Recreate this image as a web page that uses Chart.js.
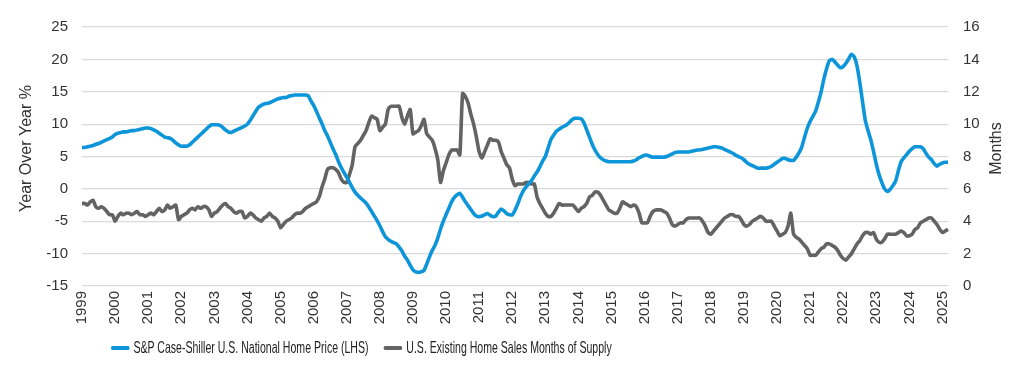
<!DOCTYPE html>
<html>
<head>
<meta charset="utf-8">
<script src="https://cdn.jsdelivr.net/npm/chart.js@4.4.1/dist/chart.umd.min.js"></script>
<style>
  html, body { margin: 0; padding: 0; background: #fff; }
  #wrap { position: relative; width: 1018px; height: 377px; }
  /* the source uses a condensed face; none is installed, so squeeze horizontally */
  #legend {
    position: absolute; left: 111px; top: 338px;
    display: flex; align-items: center; white-space: nowrap;
    font: 16.5px 'Liberation Sans', Arial, sans-serif;
    color: #222;
    transform: scaleX(0.64); transform-origin: 0 50%;
  }
  .item { display: flex; align-items: center; margin-right: 24px; }
  .swatch { width: 29px; height: 4px; margin-right: 6px; border-radius: 2px; }
</style>
</head>
<body>
<div id="wrap">
  <canvas id="c" width="1018" height="377"></canvas>
  <div id="legend"></div>
</div>
<script>
const FIRST_YEAR = 1999;
const MONTH_COUNT = 315; // Jan 1999 .. Mar 2025

// S&P Case-Shiller U.S. National Home Price, YoY % (left axis), monthly
const homePriceYoY = [
  6.4, 6.4, 6.5, 6.6, 6.7, 6.9, 7.0, 7.2, 7.4, 7.6, 7.8, 8.0,          // 1999
  8.4, 8.6, 8.7, 8.8, 8.8, 8.9, 9.0, 9.0, 9.1, 9.2, 9.3, 9.4,          // 2000
  9.4, 9.3, 9.1, 8.9, 8.6, 8.3, 8.0, 7.9, 7.8, 7.5, 7.1, 6.8,          // 2001
  6.6, 6.6, 6.6, 6.8, 7.2, 7.6, 8.0, 8.4, 8.8, 9.2, 9.6, 9.9,          // 2002
  9.9, 9.9, 9.8, 9.5, 9.1, 8.8, 8.7, 8.9, 9.1, 9.3, 9.5, 9.7,          // 2003
  10.0, 10.6, 11.3, 12.0, 12.6, 12.9, 13.1, 13.2, 13.3, 13.5, 13.7, 13.9, // 2004
  14.0, 14.1, 14.1, 14.3, 14.4, 14.5, 14.5, 14.5, 14.5, 14.5, 14.4, 13.6, // 2005
  12.9, 12.0, 11.0, 10.1, 9.0, 8.2, 7.2, 6.2, 5.3, 4.2, 3.3, 2.5,      // 2006
  1.8, 1.0, 0.2, -0.5, -1.0, -1.4, -1.8, -2.2, -2.8, -3.5, -4.2, -4.9, // 2007
  -5.7, -6.6, -7.4, -7.8, -8.1, -8.3, -8.5, -9.0, -9.6, -10.4, -11.0, -11.8, // 2008
  -12.5, -12.8, -12.9, -12.8, -12.6, -11.6, -10.5, -9.5, -8.7, -7.6, -6.2, -5.0, // 2009
  -4.0, -3.0, -2.0, -1.3, -0.9, -0.7, -1.3, -2.0, -2.6, -3.2, -3.8, -4.2, // 2010
  -4.3, -4.2, -4.0, -3.8, -4.1, -4.3, -4.2, -3.6, -3.1, -3.4, -3.8, -4.0, // 2011
  -4.0, -3.3, -2.3, -1.2, -0.3, 0.3, 0.8, 1.3, 2.0, 2.6, 3.4, 4.3,     // 2012
  5.0, 6.3, 7.6, 8.3, 8.9, 9.2, 9.5, 9.7, 10.0, 10.4, 10.8, 10.9,      // 2013
  10.9, 10.8, 10.2, 9.1, 8.0, 6.9, 6.0, 5.3, 4.8, 4.5, 4.3, 4.2,       // 2014
  4.2, 4.2, 4.2, 4.2, 4.2, 4.2, 4.2, 4.2, 4.3, 4.5, 4.8, 5.0,          // 2015
  5.2, 5.2, 5.0, 4.9, 4.9, 4.9, 4.9, 4.9, 5.0, 5.2, 5.4, 5.6,          // 2016
  5.7, 5.7, 5.7, 5.7, 5.7, 5.8, 5.9, 6.0, 6.0, 6.1, 6.2, 6.3,          // 2017
  6.4, 6.5, 6.5, 6.4, 6.3, 6.1, 5.9, 5.7, 5.5, 5.2, 5.0, 4.8,          // 2018
  4.5, 4.1, 3.8, 3.6, 3.4, 3.2, 3.2, 3.2, 3.2, 3.3, 3.5, 3.8,          // 2019
  4.1, 4.4, 4.7, 4.7, 4.5, 4.4, 4.4, 4.9, 5.6, 6.5, 8.0, 9.4,          // 2020
  10.4, 11.2, 12.0, 13.4, 15.0, 17.0, 18.6, 19.8, 20.0, 19.6, 19.1, 18.7, // 2021
  18.9, 19.4, 20.1, 20.8, 20.4, 19.0, 16.5, 13.5, 10.6, 9.0, 7.6, 5.8, // 2022
  3.8, 2.2, 1.0, 0.0, -0.4, -0.1, 0.5, 1.2, 2.8, 4.2, 4.8, 5.3,        // 2023
  5.8, 6.2, 6.5, 6.5, 6.5, 6.2, 5.5, 4.9, 4.5, 3.9, 3.5, 3.8,          // 2024
  4.0, 4.1, 4.1                                                        // 2025
];

// U.S. Existing Home Sales Months of Supply (right axis), monthly
const monthsSupply = [
  5.1, 5.1, 5.0, 5.2, 5.3, 4.9, 4.8, 4.9, 4.8, 4.6, 4.4, 4.4,          // 1999
  4.0, 4.3, 4.5, 4.4, 4.5, 4.5, 4.4, 4.5, 4.6, 4.4, 4.4, 4.3,          // 2000
  4.4, 4.5, 4.4, 4.6, 4.8, 4.6, 4.7, 5.0, 4.8, 4.9, 5.0, 4.1,          // 2001
  4.3, 4.4, 4.5, 4.7, 4.8, 4.7, 4.9, 4.8, 4.9, 4.9, 4.7, 4.3,          // 2002
  4.5, 4.6, 4.8, 5.0, 5.1, 4.9, 4.8, 4.6, 4.5, 4.6, 4.6, 4.2,          // 2003
  4.3, 4.5, 4.4, 4.2, 4.1, 4.0, 4.2, 4.3, 4.5, 4.3, 4.2, 4.0,          // 2004
  3.6, 3.8, 4.0, 4.1, 4.2, 4.4, 4.5, 4.5, 4.6, 4.8, 4.9, 5.0,          // 2005
  5.1, 5.2, 5.5, 6.1, 6.6, 7.2, 7.3, 7.3, 7.2, 7.0, 6.6, 6.4,          // 2006
  6.4, 6.9, 7.5, 8.6, 8.8, 9.0, 9.3, 9.6, 10.1, 10.5, 10.4, 10.3,      // 2007
  9.6, 9.8, 10.0, 10.9, 11.1, 11.1, 11.1, 11.1, 10.4, 10.0, 10.5, 10.9, // 2008
  9.4, 9.5, 9.6, 9.9, 10.3, 9.4, 9.2, 9.0, 8.5, 7.8, 6.4, 7.1,         // 2009
  7.6, 8.1, 8.4, 8.4, 8.4, 8.1, 11.9, 11.7, 11.3, 10.6, 10.0, 9.2,     // 2010
  8.3, 7.9, 8.3, 8.7, 9.1, 9.0, 9.0, 8.9, 8.3, 7.9, 7.5, 7.3,          // 2011
  6.6, 6.2, 6.3, 6.3, 6.3, 6.4, 6.4, 6.3, 6.3, 5.5, 5.1, 4.8,          // 2012
  4.5, 4.3, 4.3, 4.5, 4.8, 5.1, 5.0, 5.0, 5.0, 5.0, 5.0, 4.8,          // 2013
  4.6, 4.8, 4.9, 5.1, 5.5, 5.6, 5.8, 5.8, 5.6, 5.3, 5.0, 4.7,          // 2014
  4.6, 4.5, 4.5, 4.8, 5.2, 5.1, 5.0, 4.9, 5.0, 4.9, 4.5, 3.9,          // 2015
  3.9, 3.9, 4.3, 4.6, 4.7, 4.7, 4.7, 4.6, 4.5, 4.2, 3.8, 3.7,          // 2016
  3.8, 3.9, 3.9, 4.1, 4.2, 4.2, 4.2, 4.2, 4.2, 4.0, 3.7, 3.3,          // 2017
  3.2, 3.4, 3.6, 3.8, 4.0, 4.2, 4.3, 4.4, 4.4, 4.3, 4.3, 4.1,          // 2018
  3.8, 3.7, 3.8, 4.0, 4.1, 4.2, 4.3, 4.2, 4.0, 4.0, 4.0, 3.7,          // 2019
  3.4, 3.1, 3.2, 3.3, 3.7, 4.5, 3.2, 3.0, 2.9, 2.7, 2.5, 2.3,          // 2020
  1.9, 1.9, 1.9, 2.1, 2.3, 2.4, 2.6, 2.6, 2.5, 2.4, 2.2, 1.9,          // 2021
  1.7, 1.6, 1.8, 2.0, 2.3, 2.6, 2.8, 3.1, 3.3, 3.3, 3.2, 3.3,          // 2022
  2.9, 2.7, 2.7, 2.9, 3.2, 3.2, 3.2, 3.2, 3.3, 3.4, 3.3, 3.1,          // 2023
  3.1, 3.2, 3.5, 3.6, 3.9, 4.0, 4.1, 4.2, 4.2, 4.0, 3.8, 3.5,          // 2024
  3.3, 3.4, 3.5                                                        // 2025
];

const monthLabels = [];
for (let i = 0; i < MONTH_COUNT; i++) {
  monthLabels.push((FIRST_YEAR + Math.floor(i / 12)) + '-' + String(i % 12 + 1).padStart(2, '0'));
}

const BLUE = '#0d95da';
const GREY = '#636363';
const TICK_FONT = { family: "'Liberation Sans', Arial, sans-serif", size: 15 };

const seriesNames = ['S&P Case-Shiller U.S. National Home Price (LHS)', 'U.S. Existing Home Sales Months of Supply'];

// axis titles are drawn by hand so "Months" reads bottom-to-top like the left one
const axisTitles = {
  id: 'axisTitles',
  afterDraw(chart) {
    const { ctx, chartArea } = chart;
    const midY = (chartArea.top + chartArea.bottom) / 2 - 8;
    ctx.save();
    ctx.font = "16px 'Liberation Sans', Arial, sans-serif";
    ctx.fillStyle = '#333';
    ctx.textAlign = 'center';
    ctx.textBaseline = 'middle';
    [[27, 'Year Over Year %'], [997, 'Months']].forEach(([x, txt]) => {
      ctx.save();
      ctx.translate(x, midY);
      ctx.rotate(-Math.PI / 2);
      ctx.fillText(txt, 0, 0);
      ctx.restore();
    });
    ctx.restore();
  }
};

new Chart(document.getElementById('c'), {
  type: 'line',
  data: {
    labels: monthLabels,
    datasets: [
      { label: seriesNames[0], data: homePriceYoY, yAxisID: 'y', borderColor: BLUE, borderWidth: 3.6, pointRadius: 0, tension: 0.2 },
      { label: seriesNames[1], data: monthsSupply, yAxisID: 'y2', borderColor: GREY, borderWidth: 3.6, pointRadius: 0, tension: 0.2 },
    ],
  },
  options: {
    responsive: false,
    animation: false,
    layout: { padding: { top: 27, bottom: 40, left: 0, right: 0 } },
    plugins: { legend: { display: false }, tooltip: { enabled: false } },
    scales: {
      x: {
        type: 'category',
        offset: false,
        grid: { display: false, drawTicks: false },
        border: { display: false },
        ticks: {
          autoSkip: false, minRotation: 90, maxRotation: 90, padding: 5,
          color: '#333', font: TICK_FONT,
          callback: (v, i) => (i % 12 === 0 ? String(FIRST_YEAR + i / 12) : null),
        },
        afterFit: s => { s.height = 51; },
      },
      y: {
        position: 'left', min: -15, max: 25,
        grid: { color: '#dadada', lineWidth: 1.2, drawTicks: false },
        border: { display: false },
        ticks: { stepSize: 5, padding: 14, color: '#333', font: TICK_FONT },
        afterFit: s => { s.width = 82; },
      },
      y2: {
        position: 'right', min: 0, max: 16,
        grid: { display: false, drawTicks: false },
        border: { display: false },
        ticks: { stepSize: 2, padding: 15, color: '#333', font: TICK_FONT },
        afterFit: s => { s.width = 70; },
      },
    },
  },
  plugins: [axisTitles],
});

// legend as HTML row under the plot
const legendEl = document.getElementById('legend');
[[BLUE, seriesNames[0]], [GREY, seriesNames[1]]].forEach(([c, name]) => {
  const item = document.createElement('div');
  item.className = 'item';
  const sw = document.createElement('span');
  sw.className = 'swatch';
  sw.style.background = c;
  item.appendChild(sw);
  item.appendChild(document.createTextNode(name));
  legendEl.appendChild(item);
});
</script>
</body>
</html>
